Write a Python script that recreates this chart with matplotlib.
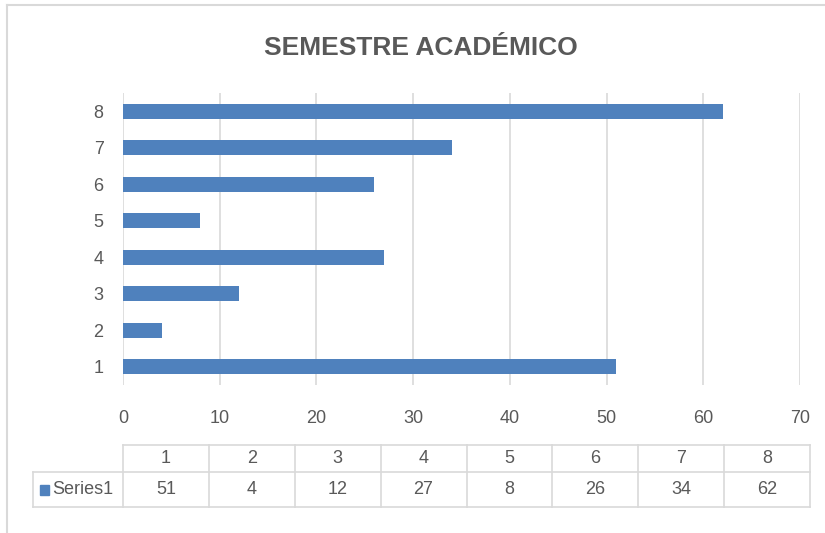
import matplotlib.pyplot as plt
from matplotlib.lines import Line2D
from matplotlib.patches import Rectangle

categories = ['1', '2', '3', '4', '5', '6', '7', '8']
values = [51, 4, 12, 27, 8, 26, 34, 62]
series_name = 'Series1'
title = 'SEMESTRE ACADÉMICO'

plt.rcParams['font.family'] = ['Liberation Sans', 'DejaVu Sans']

W, H = 825, 533
fig = plt.figure(figsize=(W / 100, H / 100), dpi=100)

# plot area in pixels: x 123..800, y 93..385
ax = fig.add_axes([123 / W, 1 - 385 / H, 677 / W, 292 / H])
bar_color = '#4F81BD'
txt_gray = '#595959'

y = range(len(categories))
ax.barh(y, values, height=0.41, color=bar_color, zorder=3)
ax.set_xlim(0, 70)
ax.set_ylim(-0.5, len(categories) - 0.5)
ax.set_xticks(range(0, 71, 10))
ax.set_yticks(list(y))
ax.set_yticklabels(categories)
ax.grid(axis='x', color='#D9D9D9', linewidth=1.2, zorder=0)
for s in ax.spines.values():
    s.set_visible(False)
ax.tick_params(length=0, labelsize=13, colors=txt_gray, pad=12)
ax.tick_params(axis='y', pad=14)
ax.tick_params(axis='x', pad=18)

fig.text(421 / W, 1 - 48 / H, title, ha='center', va='center', fontsize=19,
         fontweight='bold', color=txt_gray)

# data table below the plot
px = lambda v: v / W
py = lambda v: 1 - v / H
line_c = '#D9D9D9'
left0, col0_right, right = 33, 123, 810
top, mid, bot = 445, 472, 507
colw = (right - col0_right) / len(categories)

def hline(x0, x1, yy):
    fig.add_artist(Line2D([px(x0), px(x1)], [py(yy), py(yy)], color=line_c, lw=1.2))

def vline(xx, y0, y1):
    fig.add_artist(Line2D([px(xx), px(xx)], [py(y0), py(y1)], color=line_c, lw=1.2))

hline(col0_right, right, top)
hline(left0, right, mid)
hline(left0, right, bot)
vline(left0, mid, bot)
for i in range(len(categories) + 1):
    vline(col0_right + i * colw, top, bot)

for i, (c, v) in enumerate(zip(categories, values)):
    xc = col0_right + (i + 0.5) * colw
    fig.text(px(xc), py((top + mid) / 2), c, ha='center', va='center',
             fontsize=13, color=txt_gray)
    fig.text(px(xc), py((mid + bot) / 2), str(v), ha='center', va='center',
             fontsize=13, color=txt_gray)

fig.add_artist(Rectangle((px(40), py(495)), px(9), 10 / H, color=bar_color,
                         transform=fig.transFigure))
fig.text(px(52), py((mid + bot) / 2), series_name, ha='left', va='center',
         fontsize=13, color=txt_gray)

# chart area border (cropped on right and bottom)
fig.add_artist(Line2D([px(7), px(W)], [py(5), py(5)], color=line_c, lw=1.5))
fig.add_artist(Line2D([px(7), px(7)], [py(5), py(H)], color=line_c, lw=1.5))

fig.savefig('out.png', dpi=100)
